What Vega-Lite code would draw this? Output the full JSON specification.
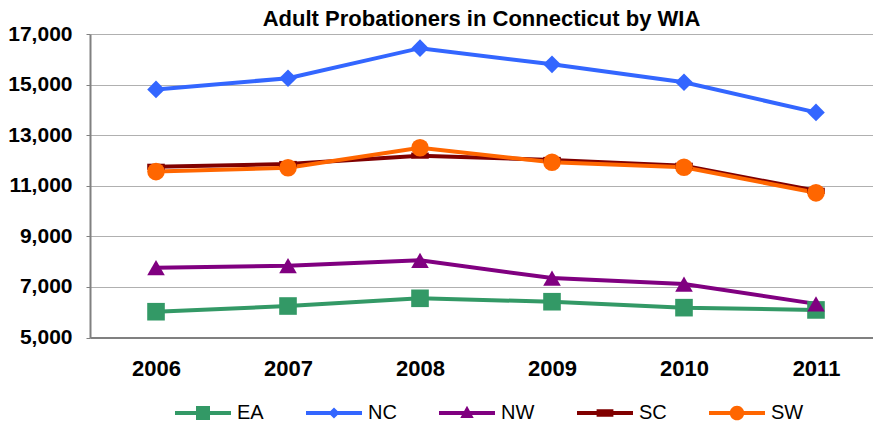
{
  "$schema": "https://vega.github.io/schema/vega-lite/v6.json",
  "width": 783,
  "height": 303.5,
  "autosize": {"type": "none"},
  "padding": {"left": 90, "top": 34, "right": 0, "bottom": 88.5},
  "background": "white",
  "title": {"text": "Adult Probationers in Connecticut by WIA", "font": "Liberation Sans", "fontSize": 22, "fontWeight": "bold", "anchor": "middle", "offset": 4, "dy": 12, "color": "black"},
  "data": {"values": [
    {"year": "2006", "wia": "EA", "value": 6020},
    {"year": "2007", "wia": "EA", "value": 6245},
    {"year": "2008", "wia": "EA", "value": 6550},
    {"year": "2009", "wia": "EA", "value": 6415},
    {"year": "2010", "wia": "EA", "value": 6180},
    {"year": "2011", "wia": "EA", "value": 6090},
    {"year": "2006", "wia": "NC", "value": 14810},
    {"year": "2007", "wia": "NC", "value": 15250},
    {"year": "2008", "wia": "NC", "value": 16440},
    {"year": "2009", "wia": "NC", "value": 15800},
    {"year": "2010", "wia": "NC", "value": 15090},
    {"year": "2011", "wia": "NC", "value": 13900},
    {"year": "2006", "wia": "NW", "value": 7760},
    {"year": "2007", "wia": "NW", "value": 7840},
    {"year": "2008", "wia": "NW", "value": 8050},
    {"year": "2009", "wia": "NW", "value": 7350},
    {"year": "2010", "wia": "NW", "value": 7115},
    {"year": "2011", "wia": "NW", "value": 6330},
    {"year": "2006", "wia": "SC", "value": 11750},
    {"year": "2007", "wia": "SC", "value": 11860},
    {"year": "2008", "wia": "SC", "value": 12190},
    {"year": "2009", "wia": "SC", "value": 12020},
    {"year": "2010", "wia": "SC", "value": 11790},
    {"year": "2011", "wia": "SC", "value": 10800},
    {"year": "2006", "wia": "SW", "value": 11560},
    {"year": "2007", "wia": "SW", "value": 11710},
    {"year": "2008", "wia": "SW", "value": 12500},
    {"year": "2009", "wia": "SW", "value": 11930},
    {"year": "2010", "wia": "SW", "value": 11730},
    {"year": "2011", "wia": "SW", "value": 10720}
  ]},
  "config": {"view": {"stroke": null}, "font": "Liberation Sans"},
  "resolve": {"scale": {"shape": "independent", "color": "independent"}},
  "layer": [
    {
      "mark": {"type": "line", "strokeWidth": 4},
      "encoding": {
        "x": {"field": "year", "type": "ordinal", "scale": {"type": "point", "padding": 0.466, "align": 0.5366},
          "axis": {"title": null, "grid": false, "ticks": false, "labelAngle": 0, "labelPadding": 21, "labelFont": "Liberation Sans", "labelFontSize": 22, "labelFontWeight": "bold", "labelColor": "black", "domainColor": "#808080", "domainWidth": 2}},
        "y": {"field": "value", "type": "quantitative", "scale": {"domain": [5000, 17000]},
          "axis": {"title": null, "values": [5000, 7000, 9000, 11000, 13000, 15000, 17000], "format": ",.0f", "labelFont": "Liberation Sans", "labelFontSize": 21, "labelFontWeight": "bold", "labelColor": "black", "labelPadding": 14, "tickSize": 4, "tickColor": "#808080", "domainColor": "#808080", "domainWidth": 2, "gridColor": "#b0b0b0", "gridWidth": 1}},
        "color": {"field": "wia", "type": "nominal", "scale": {"domain": ["EA", "NC", "NW", "SC", "SW"], "range": ["#339966", "#3366FF", "#800080", "#800000", "#FF6600"]}, "legend": null}
      }
    },
    {
      "mark": {"type": "point", "filled": true, "opacity": 1, "size": 310},
      "encoding": {
        "x": {"field": "year", "type": "ordinal"},
        "y": {"field": "value", "type": "quantitative"},
        "color": {"field": "wia", "type": "nominal", "scale": {"domain": ["EA", "NC", "NW", "SC", "SW"], "range": ["#339966", "#3366FF", "#800080", "#800000", "#FF6600"]}, "legend": null},
        "shape": {"field": "wia", "type": "nominal", "scale": {"domain": ["EA", "NC", "NW", "SC", "SW"], "range": ["square", "diamond", "triangle-up", "M-1,-0.35H1V0.35H-1Z", "circle"]}, "legend": null}
      }
    },
    {
      "mark": {"type": "point", "filled": true, "opacity": 0, "size": 3136},
      "encoding": {
        "x": {"field": "year", "type": "ordinal"},
        "y": {"field": "value", "type": "quantitative"},
        "color": {"field": "wia", "type": "nominal", "scale": {"domain": ["EA", "NC", "NW", "SC", "SW"], "range": ["#339966", "#3366FF", "#800080", "#800000", "#FF6600"]},
          "legend": {"title": null, "orient": "none", "legendX": 85, "legendY": 351, "direction": "horizontal", "padding": 0, "labelFont": "Liberation Sans", "labelFontSize": 20, "labelColor": "black", "symbolSize": 3136, "symbolStrokeWidth": 0, "symbolOpacity": 1, "columnPadding": 42, "labelOffset": 6}},
        "shape": {"field": "wia", "type": "nominal", "scale": {"domain": ["EA", "NC", "NW", "SC", "SW"], "range": [
          "M-1,-0.07H1V0.07H-1Z M-0.25,-0.25H0.25V0.25H-0.25Z",
          "M-1,-0.07H1V0.07H-1Z M0,-0.2L0.2,0L0,0.2L-0.2,0Z",
          "M-1,-0.07H1V0.07H-1Z M0,-0.26L0.24,0.18L-0.24,0.18Z",
          "M-1,-0.07H1V0.07H-1Z M-0.3,-0.13H0.3V0.13H-0.3Z",
          "M-1,-0.07H1V0.07H-1Z M0.26,0A0.26,0.26 0 1,1 -0.26,0A0.26,0.26 0 1,1 0.26,0Z"
        ]},
          "legend": {"title": null, "orient": "none", "legendX": 85, "legendY": 351, "direction": "horizontal", "padding": 0, "labelFont": "Liberation Sans", "labelFontSize": 20, "labelColor": "black", "symbolSize": 3136, "symbolStrokeWidth": 0, "symbolOpacity": 1, "columnPadding": 42, "labelOffset": 6}}
      }
    }
  ]
}
